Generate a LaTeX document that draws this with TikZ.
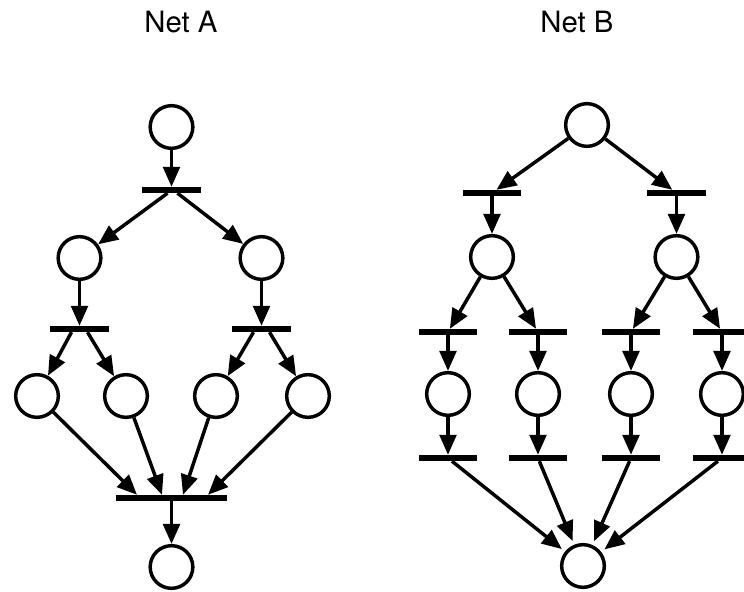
\documentclass[tikz,border=0pt]{standalone}
\usepackage{fontspec}
\setsansfont{TeX Gyre Heros}
\usetikzlibrary{arrows.meta,calc}
\begin{document}
\begin{tikzpicture}[x=0.75pt,y=0.75pt,yscale=-1,xscale=1,
  place/.style={draw,circle,line width=2.6pt,minimum size=32pt,inner sep=0pt},
  trans/.style={fill=black,minimum width=44pt,minimum height=4.4pt,inner sep=0pt},
  flow/.style={line width=2.6pt,-{Triangle[length=15pt,width=12.5pt]}}]
\useasboundingbox (0,0) rectangle (744,592);

% Text Node
\draw (181,22) node [font=\sffamily\fontsize{22}{26}\selectfont] (titleA) {Net A};
% Text Node
\draw (577,22) node [font=\sffamily\fontsize{22}{26}\selectfont] (titleB) {Net B};

%Net A places
\draw (171.5,127) node [place] (A0) {};
\draw (79.5,258) node [place] (A1) {};
\draw (261.5,258) node [place] (A2) {};
\draw (37,396) node [place] (A3) {};
\draw (126,396) node [place] (A4) {};
\draw (216,396) node [place] (A5) {};
\draw (308,396) node [place] (A6) {};
\draw (171.5,567) node [place] (A7) {};
%Net A transitions
\draw (171.5,190) node [trans] (tA1) {};
\draw (79.5,329) node [trans] (tA2) {};
\draw (261.5,329) node [trans] (tA3) {};
\draw (171.5,498) node [trans,minimum width=83pt] (tA4) {};

%Net A arcs
\draw [flow] (A0) -- (tA1);
\draw [flow] ($(tA1.south)+(-4,0)$) -- (A1);
\draw [flow] ($(tA1.south)+(6,0)$) -- (A2);
\draw [flow] (A1) -- (tA2);
\draw [flow] (A2) -- (tA3);
\draw [flow] ($(tA2.south)+(-8,0)$) -- (A3);
\draw [flow] ($(tA2.south)+(8,0)$) -- (A4);
\draw [flow] ($(tA3.south)+(-8,0)$) -- (A5);
\draw [flow] ($(tA3.south)+(8,0)$) -- (A6);
\draw [flow] (A3) -- ($(tA4.north)+(-34.5,0)$);
\draw [flow] (A4) -- ($(tA4.north)+(-9.5,0)$);
\draw [flow] (A5) -- ($(tA4.north)+(11.5,0)$);
\draw [flow] (A6) -- ($(tA4.north)+(36.5,0)$);
\draw [flow] (tA4) -- (A7);

%Net B places
\draw (587,125) node [place] (B0) {};
\draw (492,257) node [place] (B1) {};
\draw (676.5,257) node [place] (B2) {};
\draw (448,394) node [place] (B3) {};
\draw (538,394) node [place] (B4) {};
\draw (631,394) node [place] (B5) {};
\draw (722,394) node [place] (B6) {};
\draw (583,566) node [place] (B7) {};
%Net B transitions
\draw (492,193) node [trans] (tB1) {};
\draw (676.5,193) node [trans] (tB2) {};
\draw (448,332) node [trans] (tB3) {};
\draw (538,332) node [trans] (tB4) {};
\draw (631,332) node [trans] (tB5) {};
\draw (722,332) node [trans] (tB6) {};
\draw (448,458) node [trans] (tB7) {};
\draw (538,458) node [trans] (tB8) {};
\draw (631,458) node [trans] (tB9) {};
\draw (722,458) node [trans] (tB10) {};

%Net B arcs
\draw [flow] (B0) -- (tB1);
\draw [flow] (B0) -- (tB2);
\draw [flow] (tB1) -- (B1);
\draw [flow] (tB2) -- (B2);
\draw [flow] (B1) -- (tB3);
\draw [flow] (B1) -- (tB4);
\draw [flow] (B2) -- (tB5);
\draw [flow] (B2) -- (tB6);
\draw [flow] (tB3) -- (B3);
\draw [flow] (tB4) -- (B4);
\draw [flow] (tB5) -- (B5);
\draw [flow] (tB6) -- (B6);
\draw [flow] (B3) -- (tB7);
\draw [flow] (B4) -- (tB8);
\draw [flow] (B5) -- (tB9);
\draw [flow] (B6) -- (tB10);
\draw [flow,shorten >=3pt] (tB7) -- (B7);
\draw [flow,shorten >=3pt] (tB8) -- (B7);
\draw [flow,shorten >=3pt] (tB9) -- (B7);
\draw [flow,shorten >=3pt] (tB10) -- (B7);

\end{tikzpicture}
\end{document}
